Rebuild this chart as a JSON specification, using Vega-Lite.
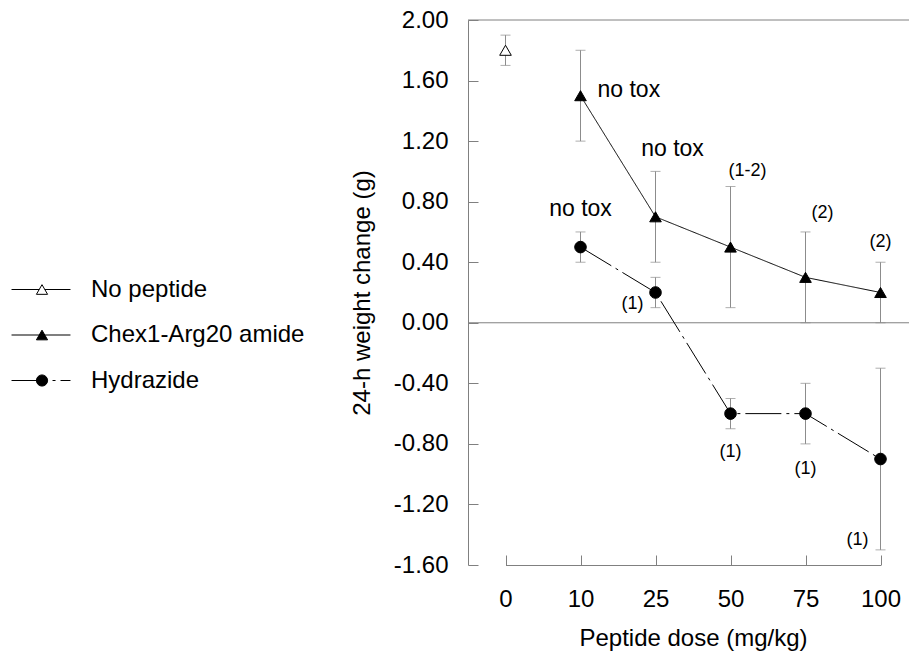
{
  "$schema": "https://vega.github.io/schema/vega-lite/v6.json",
  "width": 441,
  "height": 545,
  "autosize": {"type": "none"},
  "padding": {"left": 468, "top": 20, "right": 0, "bottom": 88},
  "background": "white",
  "config": {
    "font": "Liberation Sans",
    "locale": {"number": {"decimal": ".", "thousands": ",", "grouping": [3], "currency": ["$", ""], "minus": "-"}},
    "view": {"stroke": null},
    "axis": {
      "domainColor": "#808080", "tickColor": "#808080", "labelColor": "black", "titleColor": "black",
      "labelFont": "Liberation Sans", "titleFont": "Liberation Sans", "labelFontSize": 24, "titleFontSize": 24,
      "titleFontWeight": "normal", "grid": false, "tickSize": -10, "domainWidth": 1, "tickWidth": 1
    }
  },
  "datasets": {
    "main": [
      {"series": "No peptide", "dose": 0, "mean": 1.80, "lo": 1.70, "hi": 1.90},
      {"series": "Chex1-Arg20 amide", "dose": 10, "mean": 1.50, "lo": 1.20, "hi": 1.80},
      {"series": "Chex1-Arg20 amide", "dose": 25, "mean": 0.70, "lo": 0.40, "hi": 1.00},
      {"series": "Chex1-Arg20 amide", "dose": 50, "mean": 0.50, "lo": 0.10, "hi": 0.90},
      {"series": "Chex1-Arg20 amide", "dose": 75, "mean": 0.30, "lo": 0.00, "hi": 0.60},
      {"series": "Chex1-Arg20 amide", "dose": 100, "mean": 0.20, "lo": 0.00, "hi": 0.40},
      {"series": "Hydrazide", "dose": 10, "mean": 0.50, "lo": 0.40, "hi": 0.60},
      {"series": "Hydrazide", "dose": 25, "mean": 0.20, "lo": 0.10, "hi": 0.30},
      {"series": "Hydrazide", "dose": 50, "mean": -0.60, "lo": -0.70, "hi": -0.50},
      {"series": "Hydrazide", "dose": 75, "mean": -0.60, "lo": -0.80, "hi": -0.40},
      {"series": "Hydrazide", "dose": 100, "mean": -0.90, "lo": -1.50, "hi": -0.30}
    ],
    "notes": [
      {"dose": 10, "y": 1.54, "label": "no tox", "side": "right"},
      {"dose": 25, "y": 1.15, "label": "no tox", "side": "upright"},
      {"dose": 10, "y": 0.75, "label": "no tox", "side": "above"},
      {"dose": 50, "y": 1.00, "label": "(1-2)", "side": "upright"},
      {"dose": 75, "y": 0.725, "label": "(2)", "side": "upright"},
      {"dose": 100, "y": 0.535, "label": "(2)", "side": "above"},
      {"dose": 25, "y": 0.125, "label": "(1)", "side": "left"},
      {"dose": 50, "y": -0.855, "label": "(1)", "side": "above"},
      {"dose": 75, "y": -0.965, "label": "(1)", "side": "above"},
      {"dose": 100, "y": -1.435, "label": "(1)", "side": "left"}
    ],
    "frame": [{"level": 0}, {"level": 2}]
  },
  "encoding": {
    "x": {
      "field": "dose", "type": "ordinal",
      "scale": {"type": "point", "domain": [0, 10, 25, 50, 75, 100], "range": [37.5, 412.5], "padding": 0},
      "axis": {"title": "Peptide dose (mg/kg)", "labelAngle": 0, "labelPadding": 32, "titlePadding": 15}
    }
  },
  "layer": [
    {
      "data": {"name": "frame"},
      "mark": {"type": "rule", "color": "#808080", "strokeWidth": 1},
      "encoding": {"x": null, "y": {"field": "level", "type": "quantitative", "scale": {"domain": [-1.6, 2.0], "nice": false, "zero": false}}}
    },
    {
      "data": {"name": "main"},
      "mark": {"type": "rule", "color": "#8c8c8c", "strokeWidth": 1},
      "encoding": {
        "y": {"field": "lo", "type": "quantitative", "scale": {"domain": [-1.6, 2.0], "nice": false, "zero": false},
          "axis": {"title": "24-h weight change (g)", "values": [-1.6, -1.2, -0.8, -0.4, 0, 0.4, 0.8, 1.2, 1.6, 2.0], "format": ".2f", "labelPadding": 30, "titlePadding": 19}},
        "y2": {"field": "hi"}
      }
    },
    {
      "data": {"name": "main"},
      "mark": {"type": "tick", "color": "#8c8c8c", "size": 10, "thickness": 1, "orient": "horizontal"},
      "encoding": {"y": {"field": "lo", "type": "quantitative"}}
    },
    {
      "data": {"name": "main"},
      "mark": {"type": "tick", "color": "#8c8c8c", "size": 10, "thickness": 1, "orient": "horizontal"},
      "encoding": {"y": {"field": "hi", "type": "quantitative"}}
    },
    {
      "data": {"name": "main"},
      "mark": {"type": "line", "color": "black", "strokeWidth": 1},
      "encoding": {
        "y": {"field": "mean", "type": "quantitative"},
        "strokeDash": {
          "field": "series", "type": "nominal",
          "sort": ["No peptide", "Chex1-Arg20 amide", "Hydrazide"],
          "scale": {"range": [[1, 0], [1, 0], [36, 5, 3, 5]]},
          "legend": {"orient": "none", "legendX": -439, "legendY": 257.5, "title": null, "padding": 0,
            "symbolType": "M-5,0H5", "symbolSize": 139, "symbolStrokeColor": "black", "symbolStrokeWidth": 1.2,
            "labelExpr": "''", "labelFontSize": 24, "rowPadding": 21.5, "zindex": 0}
        }
      }
    },
    {
      "data": {"name": "main"},
      "mark": {"type": "point", "filled": true, "strokeWidth": 1, "opacity": 1, "size": 135},
      "encoding": {
        "y": {"field": "mean", "type": "quantitative"},
        "shape": {
          "field": "series", "type": "nominal",
          "scale": {"domain": ["No peptide", "Chex1-Arg20 amide", "Hydrazide"], "range": ["triangle-up", "triangle-up", "circle"]},
          "legend": {"orient": "none", "legendX": -438, "legendY": 257.5, "title": null, "padding": 0,
            "symbolSize": 125, "symbolStrokeWidth": 1, "labelLimit": 0,
            "labelFontSize": 24, "labelFont": "Liberation Sans", "labelColor": "black", "labelOffset": 37, "rowPadding": 21.5, "zindex": 1}
        },
        "fill": {
          "field": "series", "type": "nominal",
          "scale": {"domain": ["No peptide", "Chex1-Arg20 amide", "Hydrazide"], "range": ["white", "black", "black"]},
          "legend": {"orient": "none", "legendX": -438, "legendY": 257.5, "title": null, "padding": 0,
            "symbolSize": 125, "symbolStrokeWidth": 1, "labelLimit": 0,
            "labelFontSize": 24, "labelFont": "Liberation Sans", "labelColor": "black", "labelOffset": 37, "rowPadding": 21.5, "zindex": 1}
        },
        "stroke": {
          "field": "series", "type": "nominal",
          "scale": {"domain": ["No peptide", "Chex1-Arg20 amide", "Hydrazide"], "range": ["black", "black", "black"]},
          "legend": {"orient": "none", "legendX": -438, "legendY": 257.5, "title": null, "padding": 0,
            "symbolSize": 125, "symbolStrokeWidth": 1, "labelLimit": 0,
            "labelFontSize": 24, "labelFont": "Liberation Sans", "labelColor": "black", "labelOffset": 37, "rowPadding": 21.5, "zindex": 1}
        }
      }
    },
    {
      "data": {"name": "notes"},
      "transform": [{"filter": "datum.side === 'right'"}],
      "mark": {"type": "text", "align": "left", "baseline": "middle", "dx": 17, "color": "black", "font": "Liberation Sans"},
      "encoding": {"y": {"field": "y", "type": "quantitative"}, "text": {"field": "label"},
        "size": {"condition": {"test": "datum.label === 'no tox'", "value": 23}, "value": 18}}
    },
    {
      "data": {"name": "notes"},
      "transform": [{"filter": "datum.side === 'upright'"}],
      "mark": {"type": "text", "align": "center", "baseline": "middle", "dx": 17, "color": "black", "font": "Liberation Sans"},
      "encoding": {"y": {"field": "y", "type": "quantitative"}, "text": {"field": "label"},
        "size": {"condition": {"test": "datum.label === 'no tox'", "value": 23}, "value": 18}}
    },
    {
      "data": {"name": "notes"},
      "transform": [{"filter": "datum.side === 'above'"}],
      "mark": {"type": "text", "align": "center", "baseline": "middle", "dx": 0, "color": "black", "font": "Liberation Sans"},
      "encoding": {"y": {"field": "y", "type": "quantitative"}, "text": {"field": "label"},
        "size": {"condition": {"test": "datum.label === 'no tox'", "value": 23}, "value": 18}}
    },
    {
      "data": {"name": "notes"},
      "transform": [{"filter": "datum.side === 'left'"}],
      "mark": {"type": "text", "align": "right", "baseline": "middle", "dx": -12, "color": "black", "font": "Liberation Sans"},
      "encoding": {"y": {"field": "y", "type": "quantitative"}, "text": {"field": "label"},
        "size": {"condition": {"test": "datum.label === 'no tox'", "value": 23}, "value": 18}}
    }
  ]
}
